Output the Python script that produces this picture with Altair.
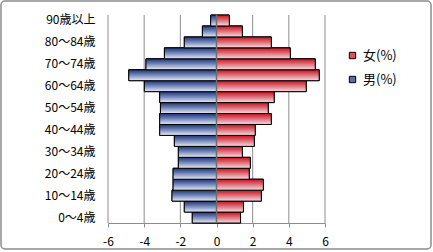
import altair as alt
import pandas as pd

ages = ["0～4歳", "5～9歳", "10～14歳", "15～19歳", "20～24歳", "25～29歳",
        "30～34歳", "35～39歳", "40～44歳", "45～49歳", "50～54歳", "55～59歳",
        "60～64歳", "65～69歳", "70～74歳", "75～79歳", "80～84歳", "85～89歳",
        "90歳以上"]
male = [1.34, 1.78, 2.46, 2.40, 2.40, 2.11, 2.11, 2.33, 3.14, 3.14, 3.10, 3.14,
        3.99, 4.85, 3.90, 2.88, 1.78, 0.78, 0.32]
female = [1.33, 1.49, 2.48, 2.59, 1.81, 1.87, 1.43, 2.09, 2.14, 3.03, 2.86, 3.19,
          4.96, 5.68, 5.46, 4.08, 3.03, 1.43, 0.71]
series = ["女(%)", "男(%)"]
x_ticks = [-6, -4, -2, 0, 2, 4, 6]

rows = []
for a, m, f in zip(ages, male, female):
    rows.append({"age": a, "sex": series[0], "value": f})
    rows.append({"age": a, "sex": series[1], "value": -m})
df = pd.DataFrame(rows)

FONT = "Noto Sans CJK JP"

xscale = alt.Scale(domain=[-6, 6], nice=False, zero=True)
yscale = alt.Scale(paddingInner=0, paddingOuter=0)
xaxis = alt.Axis(values=x_ticks, grid=False, domainColor="#8c8c8c",
                 tickColor="#8c8c8c", labelOverlap=False, labelBound=False,
                 labelFlush=False, tickSize=4, labelPadding=9, labelFontSize=12,
                 labelFont=FONT, labelColor="black",
                 labelExpr="'' + datum.value")
yaxis = alt.Axis(values=ages[0::2], domain=False, ticks=False,
                 labelPadding=13, labelFontSize=12, labelFont=FONT,
                 labelColor="black", grid=False)

# gridlines
grid = alt.Chart(pd.DataFrame({"g": x_ticks})).mark_rule(
    color="#8c8c8c", strokeWidth=1).encode(
    x=alt.X("g:Q", scale=xscale, title=None, axis=xaxis))

yenc = alt.Y("age:N", sort=ages[::-1], title=None, scale=yscale, axis=yaxis)
xenc = alt.X("value:Q", title=None, scale=xscale, axis=xaxis)

male_grad = alt.LinearGradient(
    gradient="linear", x1=0, x2=0, y1=0, y2=1,
    stops=[alt.GradientStop(offset=0, color="#1c3474"),
           alt.GradientStop(offset=0.45, color="#6f82b6"),
           alt.GradientStop(offset=1, color="#e8ecf6")])
female_grad = alt.LinearGradient(
    gradient="linear", x1=0, x2=0, y1=0, y2=1,
    stops=[alt.GradientStop(offset=0, color="#c8101c"),
           alt.GradientStop(offset=0.45, color="#dc6a74"),
           alt.GradientStop(offset=1, color="#f6dde0")])

base = alt.Chart(df).mark_bar(stroke="black", strokeWidth=1).encode(
    x=xenc, y=yenc,
    color=alt.Color("sex:N",
                    scale=alt.Scale(domain=series, range=["#d65560", "#5a6fa8"]),
                    legend=alt.Legend(title=None, orient="none", legendX=238,
                                      legendY=34, symbolType="square",
                                      symbolSize=40, symbolStrokeColor="black",
                                      symbolStrokeWidth=1, symbolOpacity=1,
                                      labelFontSize=13, labelFont=FONT,
                                      labelColor="black", rowPadding=10,
                                      labelOffset=4)))

fem = alt.Chart(df).transform_filter(alt.datum.sex == series[0]).mark_bar(
    color=female_grad, stroke="black", strokeWidth=1).encode(x=xenc, y=yenc)
mal = alt.Chart(df).transform_filter(alt.datum.sex == series[1]).mark_bar(
    color=male_grad, stroke="black", strokeWidth=1).encode(x=xenc, y=yenc)

zero = alt.Chart(pd.DataFrame({"z": [0]})).mark_rule(
    color="#6e6e6e", strokeWidth=1.5).encode(
    x=alt.X("z:Q", scale=xscale, title=None, axis=xaxis))

border = alt.Chart(alt.Data(values=[{}])).mark_rect(
    fillOpacity=0, stroke="#8c8c8c", strokeWidth=1.5, cornerRadius=4).encode(
    x=alt.value(-107), x2=alt.value(323), y=alt.value(-14), y2=alt.value(234))

chart = alt.layer(grid, base, fem, mal, zero, border).properties(
    width=217, height=208,
    autosize=alt.AutoSizeParams(type="none"),
    padding={"left": 108, "top": 15, "right": 108, "bottom": 29},
    background="white",
).configure_view(stroke=None).configure_axis(labelOverlap=False)

chart.save("out.html", embed_options={"renderer": "svg", "actions": False})
